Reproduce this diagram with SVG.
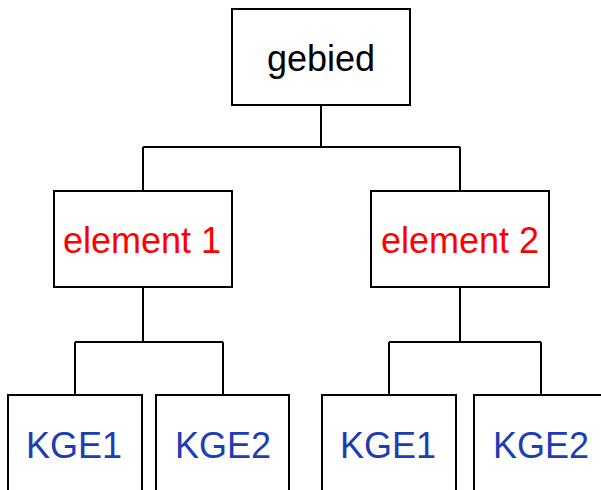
<svg xmlns="http://www.w3.org/2000/svg" width="601" height="490" viewBox="0 0 601 490">
<style>
.box{fill:#fff;stroke:#000;stroke-width:2}
.ln{fill:none;stroke:#000;stroke-width:2}
text{font-family:"Liberation Sans",Arial,sans-serif;font-size:36px;text-anchor:middle}
.k{fill:#000}
.r{fill:#ff0000}
.b{fill:#1c3db4}
</style>
<rect width="601" height="490" fill="#fff"/>
<g id="connectors">
<path class="ln" d="M321 105V147M143 147H460M143 147V191M460 147V191"/>
<path class="ln" d="M143 287V342M75 342H223M75 342V395M223 342V395"/>
<path class="ln" d="M460 287V342M389 342H541M389 342V395M541 342V395"/>
</g>
<g id="gebied"><rect class="box" x="232" y="9" width="178" height="96"/><text class="k" x="321" y="71">gebied</text></g>
<g id="element1"><rect class="box" x="54" y="191" width="178" height="96"/><text class="r" x="142" y="253">element 1</text></g>
<g id="element2"><rect class="box" x="371" y="191" width="178" height="96"/><text class="r" x="460" y="253">element 2</text></g>
<g id="kge1a"><rect class="box" x="8" y="395" width="134" height="110"/><text class="b" x="74" y="458">KGE1</text></g>
<g id="kge2a"><rect class="box" x="156" y="395" width="133" height="110"/><text class="b" x="223" y="458">KGE2</text></g>
<g id="kge1b"><rect class="box" x="322" y="395" width="134" height="110"/><text class="b" x="388" y="458">KGE1</text></g>
<g id="kge2b"><rect class="box" x="474" y="395" width="134" height="110"/><text class="b" x="541" y="458">KGE2</text></g>
</svg>
